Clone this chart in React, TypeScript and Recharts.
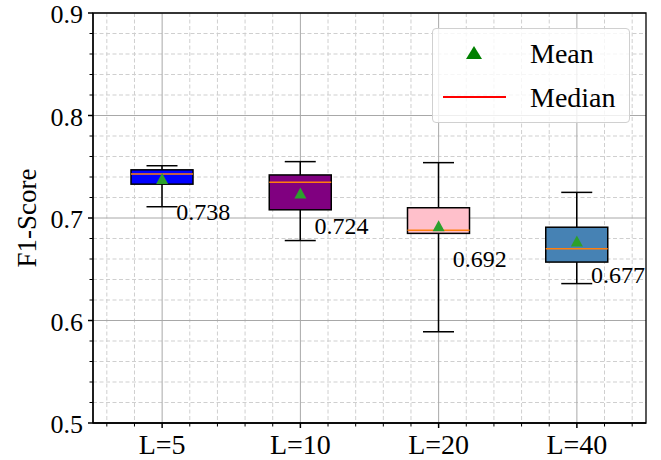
import { Bar, CartesianGrid, ComposedChart, Line, ReferenceArea, XAxis, YAxis } from 'recharts';

const categories = ['L=5', 'L=10', 'L=20', 'L=40'];
const positions = [1, 2, 3, 4];
const whiskerLow = [0.711, 0.678, 0.589, 0.636];
const quartile1 = [0.733, 0.708, 0.685, 0.657];
const medians = [0.743, 0.735, 0.688, 0.670];
const quartile3 = [0.747, 0.742, 0.710, 0.691];
const whiskerHigh = [0.751, 0.755, 0.754, 0.725];
const means = [0.738, 0.724, 0.692, 0.677];
const boxColors = ['#0000ff', '#800080', '#ffc0cb', '#4682b4'];

const majorYTicks = [0.5, 0.6, 0.7, 0.8, 0.9];
const minorYTicks = [
  0.52, 0.54, 0.56, 0.58, 0.62, 0.64, 0.66, 0.68, 0.72, 0.74, 0.76, 0.78, 0.82, 0.84,
  0.86, 0.88,
];
const minorXTicks = [
  0.6, 0.8, 1.2, 1.4, 1.6, 1.8, 2.2, 2.4, 2.6, 2.8, 3.2, 3.4, 3.6, 3.8, 4.2, 4.4,
];
const allXTicks = [...minorXTicks, ...positions].sort((a, b) => a - b);
const allYTicks = [...minorYTicks, ...majorYTicks].sort((a, b) => a - b);

const FONT = '"Liberation Serif", "DejaVu Serif", serif';

const data = categories.map((name, i) => ({
  name,
  pos: positions[i],
  lo: whiskerLow[i],
  q1: quartile1[i],
  med: medians[i],
  q3: quartile3[i],
  hi: whiskerHigh[i],
  mean: means[i],
  color: boxColors[i],
}));

type BoxShapeProps = {
  x?: number;
  y?: number;
  width?: number;
  height?: number;
  payload?: (typeof data)[number];
};

// bar spans lo..hi through the y scale; inner values use the same linear map
function BoxShape({ x = 0, y = 0, width = 0, height = 0, payload }: BoxShapeProps) {
  if (!payload) return null;
  const { lo, hi, q1, q3, med, color } = payload;
  const py = (v: number) => y + ((hi - v) / (hi - lo)) * height;
  const cx = x + width / 2;
  const capHalf = width / 4;
  const top = py(q3);
  const bottom = py(q1);
  return (
    <g>
      <line x1={cx} x2={cx} y1={py(hi)} y2={top} stroke="#000" strokeWidth={1.5} />
      <line x1={cx} x2={cx} y1={bottom} y2={py(lo)} stroke="#000" strokeWidth={1.5} />
      <line x1={cx - capHalf} x2={cx + capHalf} y1={py(hi)} y2={py(hi)} stroke="#000" strokeWidth={1.5} />
      <line x1={cx - capHalf} x2={cx + capHalf} y1={py(lo)} y2={py(lo)} stroke="#000" strokeWidth={1.5} />
      <rect x={x} y={top} width={width} height={bottom - top} fill={color} stroke="#000" strokeWidth={1.5} />
      <line x1={x} x2={x + width} y1={py(med)} y2={py(med)} stroke="#ff7f0e" strokeWidth={1.5} />
    </g>
  );
}

function MeanMarker(props: { cx?: number; cy?: number }) {
  const { cx, cy } = props;
  if (cx == null || cy == null) return null;
  return (
    <polygon
      points={`${cx},${cy - 6} ${cx - 6},${cy + 5} ${cx + 6},${cy + 5}`}
      fill="#2ca02c"
    />
  );
}

function MeanLabel(props: { x?: number; y?: number; value?: number }) {
  const { x = 0, y = 0, value = 0 } = props;
  return (
    <text x={x + 14} y={y + 33} dominantBaseline="central" fontFamily={FONT} fontSize={24} fill="#000">
      {Number(value).toFixed(3)}
    </text>
  );
}

function XTick(props: any) {
  const { x, y, payload } = props;
  const v = Number(payload.value);
  const idx = positions.indexOf(v);
  if (idx < 0) {
    return <line x1={x} x2={x} y1={y} y2={y + 3.5} stroke="#000" strokeWidth={1} />;
  }
  return (
    <g>
      <line x1={x} x2={x} y1={y} y2={y + 5} stroke="#000" strokeWidth={1.5} />
      <text x={x} y={y + 21} textAnchor="middle" dominantBaseline="central" fontFamily={FONT} fontSize={28} fill="#000">
        {categories[idx]}
      </text>
    </g>
  );
}

function YTick(props: any) {
  const { x, y, payload } = props;
  const v = Number(payload.value);
  if (!majorYTicks.some((t) => Math.abs(t - v) < 1e-6)) {
    return <line x1={x - 3.5} x2={x} y1={y} y2={y} stroke="#000" strokeWidth={1} />;
  }
  return (
    <g>
      <line x1={x - 5} x2={x} y1={y} y2={y} stroke="#000" strokeWidth={1.5} />
      <text x={x - 10} y={y + 1.5} textAnchor="end" dominantBaseline="central" fontFamily={FONT} fontSize={26} fill="#000">
        {v.toFixed(1)}
      </text>
    </g>
  );
}

function YTitle({ viewBox }: { viewBox?: { x: number; y: number; height: number } }) {
  if (!viewBox) return null;
  const x = viewBox.x + 27;
  const y = viewBox.y + viewBox.height / 2;
  return (
    <text
      x={x}
      y={y}
      transform={`rotate(-90 ${x} ${y})`}
      textAnchor="middle"
      dominantBaseline="central"
      fontFamily={FONT}
      fontSize={27}
      fill="#000"
    >
      F1-Score
    </text>
  );
}

function Legend() {
  return (
    <div
      style={{
        position: 'absolute',
        left: 432,
        top: 28,
        width: 198,
        height: 95,
        border: '1px solid #d0d0d0',
        borderRadius: 4,
        background: 'rgba(255,255,255,0.8)',
        boxSizing: 'border-box',
      }}
    >
      <svg width={198} height={95} style={{ position: 'absolute', left: -1, top: -1 }}>
        <polygon points="42,18 34,31 50,31" fill="#008000" />
        <line x1={11} x2={74} y1={69} y2={69} stroke="#ff0000" strokeWidth={2} />
        <text x={98} y={35} fontFamily={FONT} fontSize={28} fill="#000">
          Mean
        </text>
        <text x={98} y={79} fontFamily={FONT} fontSize={28} fill="#000">
          Median
        </text>
      </svg>
    </div>
  );
}

export default function App() {
  return (
    <div style={{ position: 'absolute', left: 0, top: 0, width: 661, height: 460, background: '#fff' }}>
      <ComposedChart width={661} height={460} data={data} margin={{ top: 13, right: 15, bottom: 0, left: 0 }}>
        <XAxis
          dataKey="pos"
          type="number"
          domain={[0.5, 4.5]}
          ticks={allXTicks}
          interval={0}
          height={37}
          tickSize={0}
          tickMargin={0}
          tickLine={false}
          axisLine={{ stroke: '#000', strokeWidth: 1.3 }}
          tick={(p: any) => <XTick key={`xt-${p.index}`} {...p} />}
          allowDataOverflow
        />
        <YAxis
          type="number"
          domain={[0.5, 0.9]}
          ticks={allYTicks}
          interval={0}
          width={93}
          tickSize={0}
          tickMargin={0}
          tickLine={false}
          axisLine={{ stroke: '#000', strokeWidth: 1.3 }}
          tick={(p: any) => <YTick key={`yt-${p.index}`} {...p} />}
          label={(p: any) => <YTitle viewBox={p.viewBox} />}
          allowDataOverflow
        />
        <CartesianGrid
          verticalValues={minorXTicks}
          horizontalValues={minorYTicks}
          stroke="#cfcfcf"
          strokeDasharray="4 2.5"
          strokeWidth={1}
        />
        <CartesianGrid verticalValues={positions} horizontalValues={majorYTicks} stroke="#a8a8a8" strokeWidth={1} />
        <Bar
          dataKey={(d: (typeof data)[number]) => [d.lo, d.hi]}
          barSize={62}
          shape={(p: any) => <BoxShape {...p} />}
          isAnimationActive={false}
        />
        <Line
          dataKey="mean"
          stroke="none"
          dot={(p: any) => <MeanMarker key={`m-${p.index}`} {...p} />}
          activeDot={false}
          label={(p: any) => <MeanLabel key={`l-${p.index}`} {...p} />}
          isAnimationActive={false}
        />
        <ReferenceArea
          x1={0.5}
          x2={4.5}
          y1={0.5}
          y2={0.9}
          fill="none"
          stroke="#000"
          strokeWidth={1.3}
          ifOverflow="visible"
        />
      </ComposedChart>
      <Legend />
    </div>
  );
}
